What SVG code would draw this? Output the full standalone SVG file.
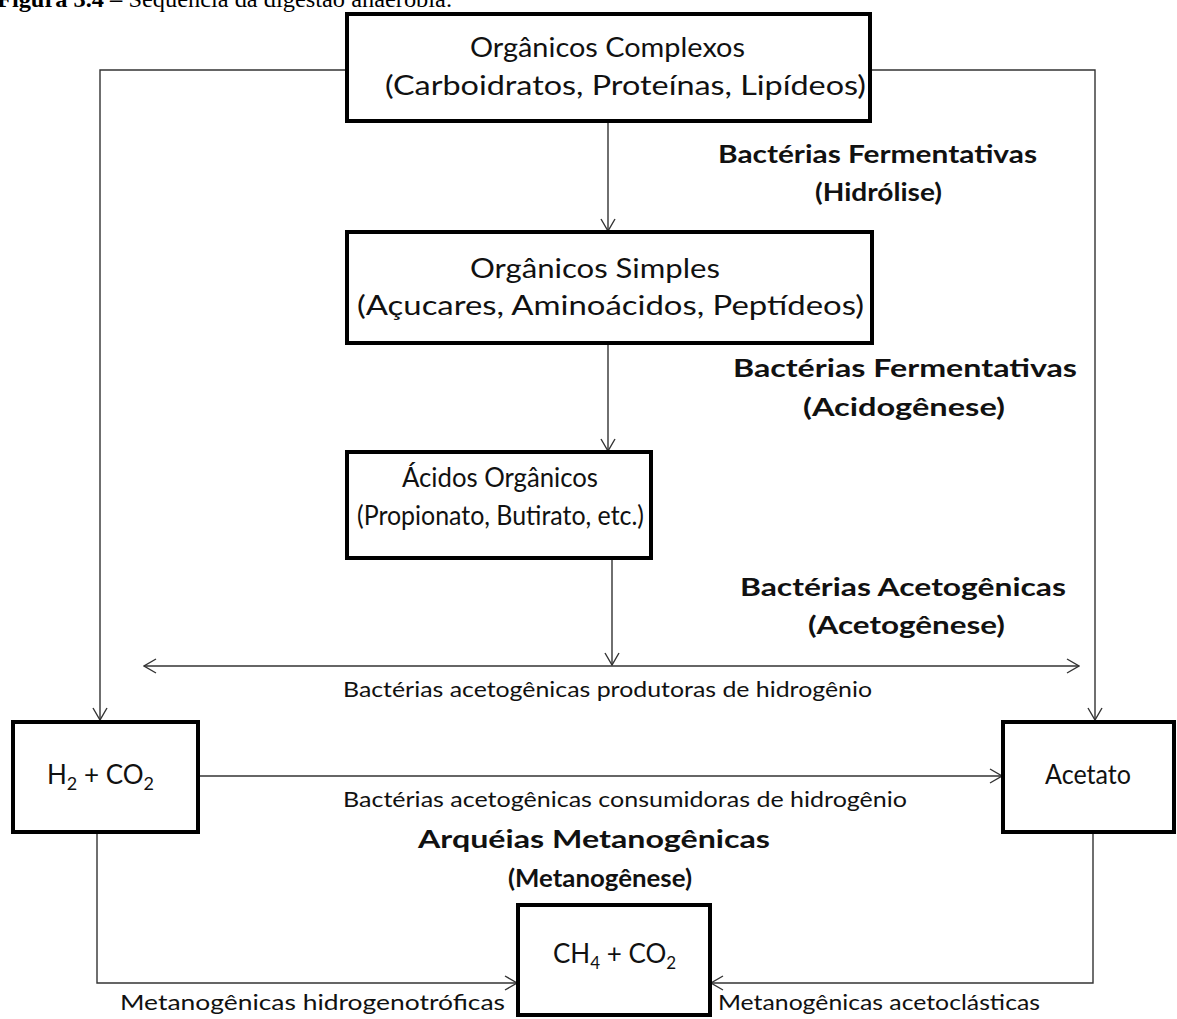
<svg xmlns="http://www.w3.org/2000/svg" width="1177" height="1019" viewBox="0 0 1177 1019">
<style>
.box{fill:#fff;stroke:#000;stroke-width:4}
.ln{fill:none;stroke:#333;stroke-width:1.4}
.t{font-family:Lato,"Liberation Sans",sans-serif;font-size:26px;fill:#111}
.b{font-family:Lato,"Liberation Sans",sans-serif;font-size:25px;font-weight:bold;fill:#111}
.s{font-family:Lato,"Liberation Sans",sans-serif;font-size:21px;fill:#111}
.cap{font-family:"Liberation Serif",serif;font-size:23px;fill:#000}
</style>
<defs>
<marker id="arr" markerUnits="userSpaceOnUse" markerWidth="14" markerHeight="16" viewBox="0 0 14 16" refX="13" refY="8" orient="auto-start-reverse">
<path d="M1,1 L13,8 L1,15" fill="none" stroke="#333" stroke-width="1.4"/>
</marker>
</defs>
<rect width="1177" height="1019" fill="#fff"/>
<text class="cap" x="-3" y="7" textLength="455" lengthAdjust="spacingAndGlyphs"><tspan font-weight="bold">Figura 3.4 –</tspan> Sequência da digestão anaeróbia.</text>

<g id="connectors">
<polyline class="ln" points="347,70 100,70 100,720" marker-end="url(#arr)"/>
<polyline class="ln" points="870,70 1095,70 1095,720" marker-end="url(#arr)"/>
<line class="ln" x1="608" y1="121" x2="608" y2="231" marker-end="url(#arr)"/>
<line class="ln" x1="608" y1="343" x2="608" y2="451" marker-end="url(#arr)"/>
<line class="ln" x1="612" y1="558" x2="612" y2="665" marker-end="url(#arr)"/>
<line class="ln" x1="144" y1="666" x2="1079" y2="666" marker-start="url(#arr)" marker-end="url(#arr)"/>
<line class="ln" x1="198" y1="776" x2="1002" y2="776" marker-end="url(#arr)"/>
<polyline class="ln" points="97,832 97,983 517,983" marker-end="url(#arr)"/>
<polyline class="ln" points="1093,832 1093,983 711,983" marker-end="url(#arr)"/>
<text class="s" x="343" y="697" textLength="529" lengthAdjust="spacingAndGlyphs">Bactérias acetogênicas produtoras de hidrogênio</text>
<text class="s" x="343" y="807" textLength="564" lengthAdjust="spacingAndGlyphs">Bactérias acetogênicas consumidoras de hidrogênio</text>
<text class="s" x="120" y="1010" textLength="385" lengthAdjust="spacingAndGlyphs">Metanogênicas hidrogenotróficas</text>
<text class="s" x="718" y="1010" textLength="322" lengthAdjust="spacingAndGlyphs">Metanogênicas acetoclásticas</text>
</g>

<g id="n-complexos">
<rect class="box" x="347" y="14" width="523" height="107"/>
<text class="t" x="470" y="57" textLength="275" lengthAdjust="spacingAndGlyphs">Orgânicos Complexos</text>
<text class="t" x="385" y="95" textLength="481" lengthAdjust="spacingAndGlyphs">(Carboidratos, Proteínas, Lipídeos)</text>
</g>
<g id="l-hidrolise">
<text class="b" x="718" y="163" textLength="319" lengthAdjust="spacingAndGlyphs">Bactérias Fermentativas</text>
<text class="b" x="815" y="201" textLength="127" lengthAdjust="spacingAndGlyphs">(Hidrólise)</text>
</g>
<g id="n-simples">
<rect class="box" x="347" y="232" width="525" height="111"/>
<text class="t" x="470" y="278" textLength="250" lengthAdjust="spacingAndGlyphs">Orgânicos Simples</text>
<text class="t" x="357" y="315" textLength="507" lengthAdjust="spacingAndGlyphs">(Açucares, Aminoácidos, Peptídeos)</text>
</g>
<g id="l-acidogenese">
<text class="b" x="733" y="377" textLength="344" lengthAdjust="spacingAndGlyphs">Bactérias Fermentativas</text>
<text class="b" x="803" y="416" textLength="202" lengthAdjust="spacingAndGlyphs">(Acidogênese)</text>
</g>
<g id="n-acidos">
<rect class="box" x="347" y="452" width="304" height="106"/>
<text class="t" x="402" y="487" textLength="196" lengthAdjust="spacingAndGlyphs">Ácidos Orgânicos</text>
<text class="t" x="357" y="525" textLength="287" lengthAdjust="spacingAndGlyphs">(Propionato, Butirato, etc.)</text>
</g>
<g id="l-acetogenese">
<text class="b" x="740" y="596" textLength="326" lengthAdjust="spacingAndGlyphs">Bactérias Acetogênicas</text>
<text class="b" x="808" y="634" textLength="197" lengthAdjust="spacingAndGlyphs">(Acetogênese)</text>
</g>
<g id="n-h2co2">
<rect class="box" x="13" y="722" width="185" height="110"/>
<text class="t" x="47" y="784" font-size="28">H<tspan font-size="18" dy="6">2</tspan><tspan dy="-6"> + CO</tspan><tspan font-size="18" dy="6">2</tspan></text>
</g>
<g id="n-acetato">
<rect class="box" x="1003" y="722" width="171" height="110"/>
<text class="t" x="1045" y="784" textLength="86" lengthAdjust="spacingAndGlyphs">Acetato</text>
</g>
<g id="l-metanogenese">
<text class="b" x="418" y="848" textLength="352" lengthAdjust="spacingAndGlyphs">Arquéias Metanogênicas</text>
<text class="b" x="508" y="887" textLength="184" lengthAdjust="spacingAndGlyphs">(Metanogênese)</text>
</g>
<g id="n-ch4co2">
<rect class="box" x="518" y="905" width="192" height="110"/>
<text class="t" x="553" y="963">CH<tspan font-size="17" dy="6">4</tspan><tspan dy="-6"> + CO</tspan><tspan font-size="17" dy="6">2</tspan></text>
</g>
</svg>
